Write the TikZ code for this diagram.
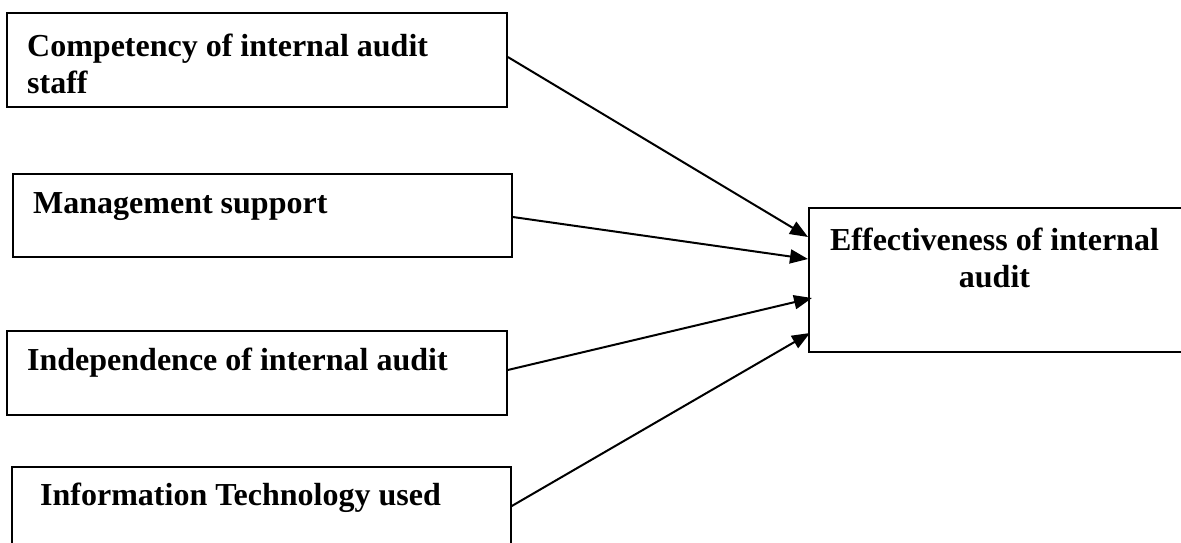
\documentclass[tikz,border=0pt]{standalone}
\usepackage{fontspec}
\setmainfont{Liberation Serif}
\usetikzlibrary{arrows.meta}
\begin{document}
\begin{tikzpicture}[x=1pt,y=-1pt,
  box/.style={draw=black,line width=1.8pt,rectangle,inner sep=0pt,anchor=north west},
  lbl/.style={inner sep=0pt,font=\bfseries\fontsize{32}{37}\selectfont},
  arr/.style={draw=black,line width=2pt,-{Triangle[length=18pt,width=14pt]}}]
\useasboundingbox[fill=white] (0,0) rectangle (1181,543);
% boxes
\node[box,minimum width=500pt,minimum height=94pt] (c1) at (6,12) {};
\node[box,minimum width=499pt,minimum height=83pt] (c2) at (12,173) {};
\node[box,minimum width=500pt,minimum height=84pt] (c3) at (6,330) {};
\node[box,minimum width=499pt,minimum height=90pt] (c4) at (11,466) {};
\node[box,minimum width=380pt,minimum height=144pt] (eff) at (808,207) {};
% labels
\node[lbl,anchor=north west,align=left] (t1) at (27,34) {Competency of internal audit\\staff};
\node[lbl,anchor=base west] (t2) at (33,213) {Management support};
\node[lbl,anchor=base west] (t3) at (27,370) {Independence of internal audit};
\node[lbl,anchor=base west] (t4) at (40,505) {Information Technology used};
\node[lbl,anchor=north,align=center] (t5) at (994.5,228) {Effectiveness of internal\\audit};
% connectors
\draw[arr] ([yshift=-45pt]c1.north east) -- ([yshift=-30pt]eff.north west);
\draw[arr] ([yshift=-44pt]c2.north east) -- ([yshift=-52pt]eff.north west);
\draw[arr] ([yshift=-40pt]c3.north east) -- ([xshift=4pt,yshift=-91pt]eff.north west);
\draw[arr] ([yshift=-40pt]c4.north east) -- ([xshift=2pt,yshift=-126pt]eff.north west);
\end{tikzpicture}
\end{document}
